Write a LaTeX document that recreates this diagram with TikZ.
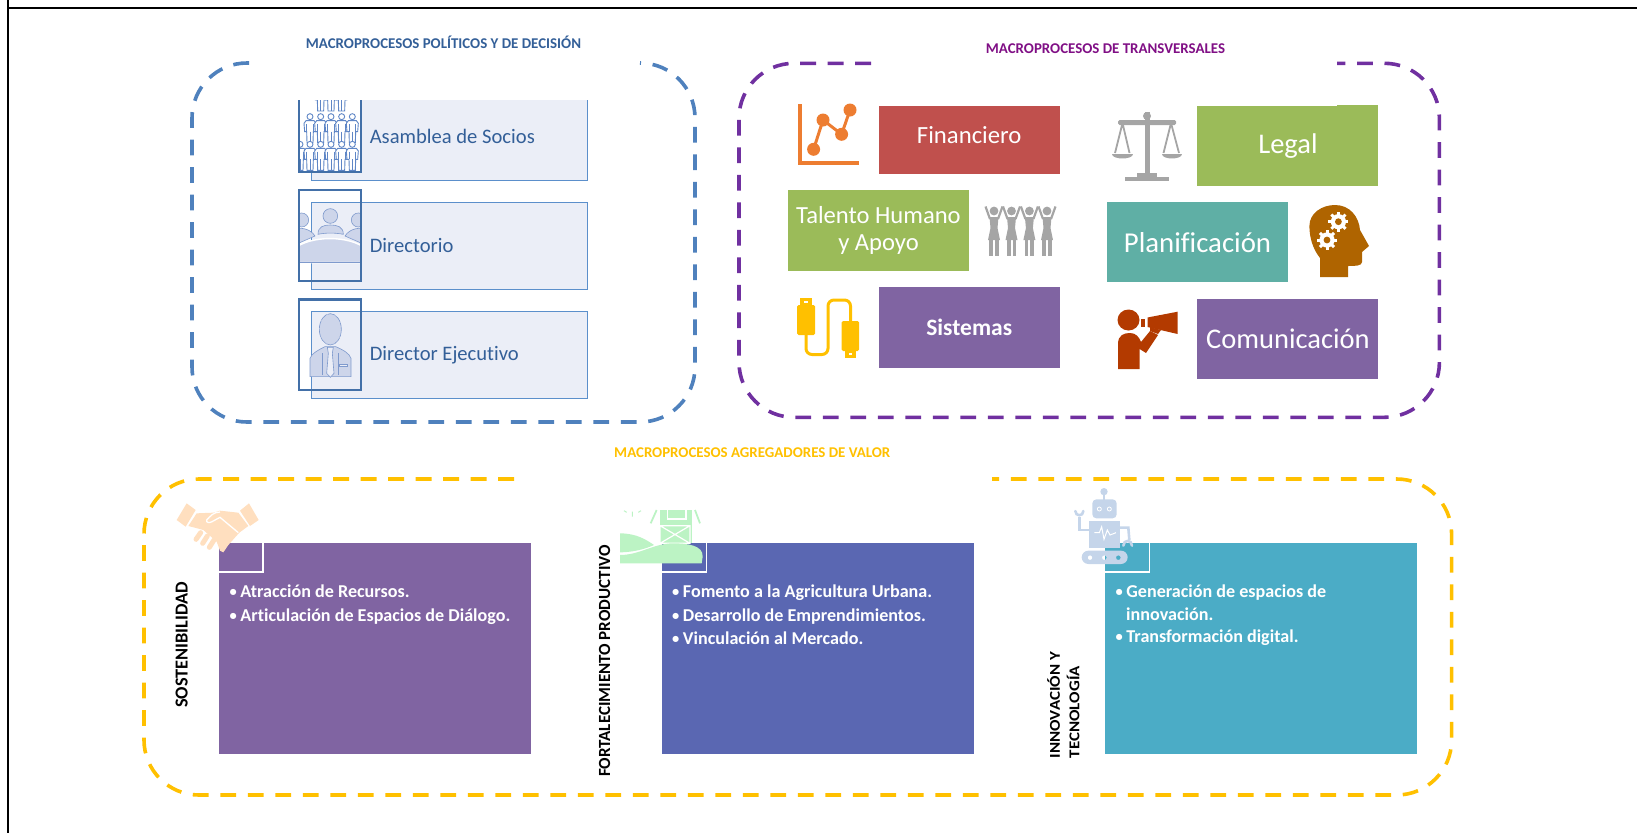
\documentclass[tikz,border=0pt]{standalone}
\usepackage{fontspec}
\setmainfont[Ligatures=NoCommon]{Carlito}
\definecolor{bluedash}{HTML}{4F81BD}
\definecolor{bluetext}{HTML}{335F98}
\definecolor{lightfill}{HTML}{EBEEF7}
\definecolor{lightedge}{HTML}{5B8FCB}
\definecolor{frameblue}{HTML}{4370A8}
\definecolor{iconfill}{HTML}{CDD5EA}
\definecolor{iconline}{HTML}{7F9ACD}
\definecolor{figline}{HTML}{5F86C6}
\definecolor{purpledash}{HTML}{7030A0}
\definecolor{purpletitle}{HTML}{800F85}
\definecolor{yellowdash}{HTML}{FFC000}
\definecolor{finred}{HTML}{C0504D}
\definecolor{leafgreen}{HTML}{9BBB59}
\definecolor{seateal}{HTML}{5FAFA5}
\definecolor{violet}{HTML}{8064A2}
\definecolor{indigo}{HTML}{5A67B2}
\definecolor{cyanp}{HTML}{4BACC6}
\definecolor{orangei}{HTML}{ED7D31}
\definecolor{greyi}{HTML}{A5A5A5}
\definecolor{browni}{HTML}{AF6400}
\definecolor{rusti}{HTML}{B33A00}
\definecolor{peach}{HTML}{FFDFBF}
\definecolor{mint}{HTML}{BCF3C4}
\definecolor{robotc}{HTML}{C5D5EA}
\newcommand{\fs}[1]{\fontsize{#1}{#1}\selectfont}
\newcommand{\bul}{{\raisebox{1pt}{\fs{14.5}•}}\hspace{3.5pt}}
\tikzset{
  dashframe/.style={line width=3.6pt,dash pattern=on 15.8pt off 11.7pt,rounded corners=55pt},
  titletext/.style={inner sep=0pt,font=\fs{14.9}\bfseries},
  lightbox/.style={fill=lightfill,draw=lightedge,line width=.8pt,minimum width=276pt,inner sep=0pt},
  lighttext/.style={inner sep=0pt,anchor=west,text=bluetext,font=\fs{20.6}},
  iconframe/.style={draw=frameblue,line width=2.4pt},
  procbox/.style={inner sep=0pt,minimum width=181pt,text=white,align=center,font=\fs{24}},
  panel/.style={inner sep=0pt,minimum width=312pt,minimum height=211pt},
  notch/.style={draw=white,line width=1.4pt},
  sidetext/.style={inner sep=0pt,rotate=90,text=black,font=\fs{17}\bfseries},
  bullets/.style={inner sep=0pt,anchor=north west,text=white,font=\fs{18.1}\bfseries,align=left},
}
\newcommand{\govfig}[2]{%
  \begin{scope}[shift={(#1,#2)}]
    \draw[figline,fill=white,line width=.9pt] (0,0) circle[radius=9];
    \draw[figline,fill=white,line width=.9pt] (-12,12) -- (12,12) -- (18,20) -- (16,45) -- (10,45) -- (9,78) -- (-9,78) -- (-10,45) -- (-16,45) -- (-18,20) -- cycle;
    \draw[figline,line width=.9pt] (0,45) -- (0,78) (-10,22) -- (-10,45) (10,22) -- (10,45);
  \end{scope}}
\newcommand{\gear}[3]{%
  \foreach \a in {0,45,...,315}{\draw[white,line width=3pt] (#1,#2) -- ++(\a:#3);}
  \fill[white] (#1,#2) circle[radius=#3*.76];
  \fill[browni] (#1,#2) circle[radius=#3*.34];}
\begin{document}
\begin{tikzpicture}[x=1pt,y=-1pt]
\useasboundingbox (0,0) rectangle (1637,833);
% outer page lines
\coordinate (tl) at (8,8); \coordinate (tr) at (1637,8); \coordinate (bl) at (8,833); \coordinate (tt) at (8,0);
\draw[black,line width=1.8pt] (tl) -- (tr) (tt) -- (bl);

% ---------- titles
\node[titletext,text=bluetext] (titleA) at (443.5,42.3) {MACROPROCESOS POLÍTICOS Y DE DECISIÓN};
\node[titletext,text=purpletitle] (titleB) at (1105.5,48.3) {MACROPROCESOS DE TRANSVERSALES};
\node[titletext,text=yellowdash] (titleC) at (752.3,452.3) {MACROPROCESOS AGREGADORES DE VALOR};

% ---------- dashed frames
\draw[dashframe,bluedash] (249,63) -- (192,63) -- (192,422) -- (695,422) -- (695,63) -- (640,63);
\draw[dashframe,purpledash] (871,63.3) -- (739,63.3) -- (739,417.3) -- (1439.4,417.3) -- (1439.4,63.3) -- (1337,63.3);
\draw[dashframe,yellowdash] (514,479) -- (144,479) -- (144,795) -- (1451.6,795) -- (1451.6,479) -- (992,479);

% ---------- governance boxes
\path[fill=lightfill] (311,100) rectangle (587.5,180);
\draw[lightedge,line width=.8pt] (311,100) -- (311,180) -- (587.5,180) -- (587.5,100);
\node[lighttext] (asamblea) at (369.6,136.7) {Asamblea de Socios};
\node[lightbox,minimum height=87pt] (boxdir) at (449.25,245.8) {};
\node[lighttext] (directorio) at (369.6,245.7) {Directorio};
\node[lightbox,minimum height=87pt] (boxeje) at (449.25,354.7) {};
\node[lighttext] (ejecutivo) at (369.6,354.7) {Director Ejecutivo};

% icon 1: assembly
\begin{scope}
  \clip (299,100) rectangle (360.7,171.7);
  \fill[white] (299,100) rectangle (360.7,171.7);
  \begin{scope}[shift={(290,90)},x=.3333pt,y=-.3333pt]
    \foreach \c in {92,123,155}{\govfig{\c}{-15}}
    \foreach \c in {60,92,123,155,187}{\govfig{\c}{80}}
    \foreach \c in {30,60,92,123,155,187}{\govfig{\c}{163}}
  \end{scope}
\end{scope}
% icon 2: board
\begin{scope}
  \clip (299,190) rectangle (360.7,281);
  \begin{scope}[shift={(290,90)},x=.3333pt,y=-.3333pt]
    \draw[iconline,fill=iconfill,line width=.6pt] (35,390) circle[radius=21];
    \draw[iconline,fill=iconfill,line width=.6pt] (205,390) circle[radius=21];
    \draw[iconline,fill=iconfill,line width=.6pt] (121,378) circle[radius=22];
    \draw[iconline,fill=iconfill,line width=.6pt] (84,433) .. controls (84,410) and (100,405) .. (121,405) .. controls (142,405) and (160,410) .. (160,433) .. controls (135,428) and (108,428) .. (84,433) -- cycle;
    \draw[iconline,fill=iconfill,line width=.6pt] (10,420) .. controls (30,410) and (60,415) .. (75,438) -- (25,460) -- (10,460) -- cycle;
    \draw[iconline,fill=iconfill,line width=.6pt] (230,420) .. controls (210,410) and (180,415) .. (165,438) -- (215,460) -- (230,460) -- cycle;
    \draw[white,fill=iconfill,line width=1.4pt] (10,478) .. controls (60,435) and (180,435) .. (230,478) -- (230,518) -- (10,518) -- cycle;
    \draw[iconline,line width=.6pt] (10,518) -- (230,518);
  \end{scope}
\end{scope}
% icon 3: director
\begin{scope}[shift={(290,90)},x=.3333pt,y=-.3333pt]
  \draw[iconline,fill=iconfill,line width=.6pt,dash pattern=on 8pt off .6pt] (121,718) ellipse[x radius=33,y radius=47];
  \draw[iconline,fill=iconfill,line width=.6pt] (60,860) -- (60,805) .. controls (65,790) and (85,780) .. (105,770) -- (137,770) .. controls (160,780) and (178,790) .. (183,805) -- (183,860) -- cycle;
  \draw[iconline,fill=lightfill,line width=.6pt] (112,772) -- (130,772) -- (127,790) -- (132,850) -- (121,862) -- (110,850) -- (115,790) -- cycle;
  \draw[iconline,line width=.6pt] (98,790) -- (98,855) (144,790) -- (144,855);
  \draw[iconline,fill=lightfill,line width=.6pt] (149,824) rectangle (171,830);
\end{scope}
% frames
\draw[iconframe] (299,100) -- (299,171.7) -- (360.7,171.7) -- (360.7,100);
\draw[iconframe] (299,190) rectangle (360.7,281);
\draw[iconframe] (299,299.3) rectangle (360.7,390);

% ---------- transversal boxes
\node[procbox,fill=finred,minimum height=68pt] (fin) at (969.2,140) {\raisebox{11pt}{\fs{24.7}Financiero}};
\node[procbox,fill=leafgreen,minimum height=80pt] (legal) at (1287.9,146) {\fs{28.5}Legal};
\fill[leafgreen] (1337,105) rectangle (1378.4,107);
\node[procbox,fill=leafgreen,minimum height=80.5pt] (talento) at (878.5,230.5) {\fs{24.6}Talento Humano\\[3pt]\fs{24.6}y Apoyo};
\node[procbox,fill=seateal,minimum height=80.3pt] (plan) at (1197.5,242.2) {\fs{28.8}Planificación};
\node[procbox,fill=violet,minimum height=80.7pt] (sist) at (969.2,327.4) {\fs{23.5}\bfseries Sistemas};
\node[procbox,fill=violet,minimum height=80.3pt] (com) at (1287.9,339.2) {\fs{28.5}Comunicación};

% chart icon
\draw[orangei,line width=4.6pt] (800,104) -- (800,163) -- (859,163);
\draw[orangei,line width=3pt] (813.6,149.3) -- (823,120) -- (841.6,134.3) -- (850,110);
\foreach \px/\py in {813.6/149.3,823/120,841.6/134.3,850/110}{\fill[orangei] (\px,\py) ellipse[x radius=6.5,y radius=6.5];}

% scales icon
\fill[greyi] (1144.5,112) rectangle (1149.5,177);
\fill[greyi] (1147,116) circle[radius=4];
\fill[greyi,rounded corners=1.5pt] (1118,120) rectangle (1176,125);
\fill[greyi] (1137,172.5) rectangle (1157,178);
\fill[greyi] (1125,177) rectangle (1168.5,181);
\draw[greyi,line width=1.8pt] (1122.5,123) -- (1115,153) (1122.5,123) -- (1129.5,153) (1171,123) -- (1163.5,153) (1171,123) -- (1179,153);
\fill[greyi] (1112,154) -- (1133,154) .. controls (1133,160) and (1112,160) .. (1112,154) -- cycle;
\fill[greyi] (1161.6,154) -- (1182.3,154) .. controls (1182.3,160) and (1161.6,160) .. (1161.6,154) -- cycle;

% people icon
\foreach \c in {994,1011.5,1029.4,1047}{
  \fill[greyi] (\c,211) circle[radius=4.4];
  \fill[greyi] (\c-4.5,217) -- (\c+4.5,217) -- (\c+3.5,228) -- (\c+6,240) -- (\c-6,240) -- (\c-3.5,228) -- cycle;
  \fill[greyi] (\c-4.6,240) rectangle (\c-1,256);
  \fill[greyi] (\c+1,240) rectangle (\c+4.6,256);
  \draw[greyi,line width=2.2pt] (\c-4,219) -- (\c-8.5,206.5) (\c+4,219) -- (\c+8.5,206.5);
}

% head icon
\fill[browni] (1320,277) -- (1320,258) .. controls (1312,248) and (1309.4,236) .. (1309.4,226) .. controls (1309.4,213) and (1322,205) .. (1335,205) .. controls (1350,205) and (1359,217) .. (1360,230) -- (1369,246) -- (1362,252) -- (1362,262) .. controls (1362,266) and (1355,266) .. (1348,266) -- (1348,277) -- cycle;
\gear{1338.4}{221.7}{10}
\gear{1327}{240}{10}

% usb icon
\draw[yellowdash,line width=3pt,rounded corners=6pt] (806,335) -- (806,354.5) -- (828,354.5) -- (828,300) -- (850.5,300) -- (850.5,321);
\fill[yellowdash] (800,298) rectangle (812,305);
\fill[yellowdash,rounded corners=1.5pt] (797,305) rectangle (815,335);
\fill[yellowdash,rounded corners=1.5pt] (841.6,321) rectangle (859,351);
\fill[yellowdash] (844.5,351) rectangle (856,358);
\fill[white] (849,352.5) rectangle (852,355);
\fill[white] (804,300.5) rectangle (808,303);

% megaphone icon
\fill[rusti] (1128.5,320) ellipse[x radius=11,y radius=10.5];
\fill[rusti] (1118,369) -- (1118,344) .. controls (1118,335) and (1124,333) .. (1130,333) .. controls (1136,333) and (1139,337) .. (1141,342) -- (1150,331) -- (1158,335) -- (1146,353) -- (1139.6,349) -- (1139.6,369) -- cycle;
\fill[rusti] (1147.5,317.5) -- (1177.6,311.7) -- (1177.6,334) -- (1147.5,327) -- cycle;
\fill[rusti] (1141,319) rectangle (1144.5,327);
\fill[rusti] (1150,327) -- (1161,330) -- (1158,334) -- (1150,331) -- cycle;

% ---------- value panels
\node[panel,fill=violet] (p1) at (375,648.7) {};
\node[panel,fill=indigo] (p2) at (818,648.7) {};
\node[panel,fill=cyanp] (p3) at (1261.3,648.7) {};
\draw[notch] (263,543.3) -- (263,572) -- (219,572);
\draw[notch] (706.7,543.3) -- (706.7,572) -- (662,572);
\draw[notch] (1149.5,543.3) -- (1149.5,572) -- (1105.3,572);

\node[bullets] (t1) at (229.5,585) {\bul Atracción de Recursos.\\[5pt]\bul Articulación de Espacios de Diálogo.};
\node[bullets] (t2) at (672,585) {\bul Fomento a la Agricultura Urbana.\\[5pt]\bul Desarrollo de Emprendimientos.\\[5.5pt]\bul Vinculación al Mercado.};
\node[bullets] (t3) at (1115.5,585) {\bul Generación de espacios de\\[4pt]\hspace*{10.5pt}innovación.\\[4.6pt]\bul Transformación digital.};

\node[sidetext,font=\fs{18.3}\bfseries] (s1) at (181.7,645) {SOSTENIBILIDAD};
\node[sidetext] (s2) at (604.6,661) {FORTALECIMIENTO PRODUCTIVO};
\node[sidetext,anchor=west,font=\fs{15}\bfseries] (s3a) at (1053.5,758.3) {\scalebox{1.13}[1]{INNOVACIÓN Y}};
\node[sidetext,anchor=west,font=\fs{15}\bfseries] (s3b) at (1073,758.3) {\scalebox{1.13}[1]{TECNOLOGÍA}};

% handshake
\begin{scope}[shift={(170,490)},x=.3333pt,y=-.3333pt]
  \fill[peach] (20,90) -- (50,40) -- (77,60) -- (47,110) -- cycle;
  \fill[peach] (210,62) -- (237,40) -- (266,90) -- (240,108) -- cycle;
  \fill[peach] (80,70) -- (130,68) -- (150,62) -- (205,68) -- (235,108) -- (208,128) -- (175,165) -- (160,187) -- (150,182) -- (140,155) -- (100,120) -- (82,115) -- (55,108) -- cycle;
  \draw[peach,line width=5pt,line cap=round] (78,148) -- (92,128) (98,160) -- (112,138) (118,172) -- (132,150);
  \draw[white,line width=1.3pt] (150,66) .. controls (130,66) and (122,78) .. (110,90) .. controls (108,98) and (118,100) .. (126,95) -- (150,82) -- (205,128);
\end{scope}

% barn
\begin{scope}[shift={(600,495)},x=.3333pt,y=-.3333pt]
  \fill[mint] (180,45) rectangle (275,145);
  \draw[mint,line width=1.8pt] (170,45) -- (152,85) (285,45) -- (300,85);
  \draw[white,line width=1.2pt] (203,45) -- (203,72) -- (258,72) -- (258,45);
  \draw[white,line width=1.2pt] (180,92) rectangle (270,145) (180,92) -- (270,145) (270,92) -- (180,145);
  \fill[mint] (60,115) .. controls (110,115) and (140,135) .. (162,150) .. controls (130,165) and (90,172) .. (60,172) -- cycle;
  \fill[mint] (60,180) .. controls (120,180) and (160,145) .. (220,145) .. controls (260,145) and (310,150) .. (308,185) -- (305,205) -- (60,205) -- cycle;
  \draw[mint,line width=1pt] (97,50) -- (97,65) (72,47) -- (80,52) (123,47) -- (115,52);
\end{scope}

% robot
\begin{scope}[shift={(1060,480)},x=.3333pt,y=-.3333pt]
  \fill[robotc] (132,35) circle[radius=11];
  \fill[robotc] (129,40) rectangle (135,60);
  \fill[robotc,rounded corners=4pt] (97,58) rectangle (170,115);
  \fill[robotc] (88,123) rectangle (180,205);
  \draw[white,line width=.8pt] (118,87) circle[radius=6] (148,87) circle[radius=6];
  \draw[white,line width=1pt] (103,158) -- (118,158) -- (125,140) -- (132,178) -- (142,150) -- (150,165) -- (168,158);
  \draw[robotc,line width=2.6pt] (88,150) -- (58,150) -- (58,112);
  \draw[robotc,line width=2.6pt,line cap=round] (46,93) .. controls (46,110) and (70,110) .. (70,93);
  \draw[robotc,line width=2.6pt] (180,143) -- (205,143) -- (208,180);
  \draw[robotc,line width=2.6pt,line cap=round] (190,197) .. controls (190,178) and (216,178) .. (216,197);
  \fill[robotc,even odd rule] (85,212) -- (183,212) arc[start angle=-90,end angle=90,radius=20] -- (85,252) arc[start angle=90,end angle=270,radius=20] -- cycle (90,233) circle[radius=7] (133,233) circle[radius=7] (175,233) circle[radius=7];
\end{scope}
\end{tikzpicture}
\end{document}
